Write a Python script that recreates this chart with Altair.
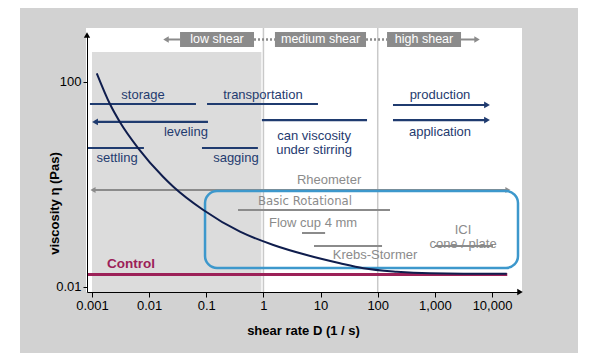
import altair as alt
import pandas as pd

# ---------------- data ----------------
shear_rate = [0.00121, 0.00207, 0.00309, 0.00645, 0.0175, 0.0265, 0.0887,
              0.389, 1.49, 5.71, 21.9, 56, 215, 822, 3150, 18100]
viscosity = [148, 36.7, 16.4, 5.09, 1.42, 0.906, 0.318,
             0.12, 0.066, 0.042, 0.029, 0.0232, 0.0199, 0.0185, 0.0182, 0.0182]

x_ticks = [0.001, 0.01, 0.1, 1, 10, 100, 1000, 10000]
y_ticks = [0.01, 100]

region_names = ["low shear", "medium shear", "high shear"]
region_start = [0.0347, 1.59, 145.6]
region_end = [0.684, 62.4, 2870]
region_center = [0.154, 10.0, 646]
header_top = 946
header_bottom = 482
header_mid = 675
header_tips = [0.0197, 5470]

low_shear_band = [0.001, 0.92]
low_shear_top = 385
dividers = [1, 100]

app_names = ["storage", "transportation", "leveling", "can viscosity\nunder stirring",
             "settling", "sagging", "production", "application"]
app_start = [0.00092, 0.103, 0.00113, 0.94, 0.000817, 0.084, 185, 185]
app_end = [0.066, 9.0, 0.107, 65, 0.0081, 0.80, 8180, 8180]
app_level = [37.2, 37.2, 16.6, 18.1, 5.15, 5.15, 35.6, 18.1]
app_arrow = ["none", "none", "left", "none", "none", "none", "right", "right"]
app_label_x = [0.0078, 0.98, 0.044, 7.7, 0.00274, 0.33, 1230, 1230]
app_label_y = [55.7, 55.7, 10.6, 8.65, 3.29, 3.29, 55.7, 10.6]

inst_names = ["Rheometer", "Basic Rotational", "Flow cup 4 mm", "Krebs-Stormer", "ICI\ncone / plate"]
inst_start = [0.00104, 0.359, 4.73, 7.67, 1006]
inst_end = [19000, 164, 12.0, 119, 10400]
inst_level = [0.78, 0.318, 0.113, 0.063, 0.063]
inst_label_x = [14.1, 5.35, 7.4, 89.8, 3110]
inst_label_y = [1.22, 0.476, 0.177, 0.042, 0.132]

box_x = [0.095, 28500]
box_y = [0.746, 0.0235]

control_level = 0.0175
control_range = [0.000817, 18500]
control_label_x = 0.00482
control_label_y = 0.0281

# ---------------- styling ----------------
FONT = "Liberation Sans, Arial, sans-serif"
NARROW = "Liberation Sans Narrow, DejaVu Sans Condensed, Liberation Sans, Arial, sans-serif"
NAVY = "#1f3b6f"
CURVE = "#0f1d4d"
GREY = "#8b8b8b"
PANEL = "#d2d2d2"
BAND = "#dcdcdc"
BLUE = "#3d98cc"
CONTROL = "#9c2158"

W, H = 433, 257
XMIN, XMAX = 0.000817, 30900
YMIN, YMAX = 0.00798, 826

xs = alt.Scale(type="log", domain=[XMIN, XMAX], nice=False)
ys = alt.Scale(type="log", domain=[YMIN, YMAX], nice=False)

xaxis = alt.Axis(values=x_ticks, format=",~g", title="shear rate D (1 / s)", grid=False,
                 domainColor="black", tickColor="black", tickSize=5, labelFontSize=13,
                 labelFont=FONT, labelColor="black", labelPadding=2, labelFlush=False,
                 labelOverlap=False, titleFont=FONT, titleFontSize=13, titleFontWeight="bold",
                 titleColor="black", titleX=216, titleY=38, titleBaseline="middle",
                 titleAlign="center", zindex=2)
yaxis = alt.Axis(values=y_ticks, format="~g", title="viscosity η (Pas)", grid=False,
                 domainColor="black", tickColor="black", tickSize=4, labelFontSize=13,
                 labelFont=FONT, labelColor="black", labelPadding=2, labelFlush=False,
                 labelOverlap=False, titleFont=FONT, titleFontSize=13, titleFontWeight="bold",
                 titleColor="black", titleX=-33, titleY=168, titleAngle=270,
                 titleBaseline="middle", titleAlign="center", zindex=2)


def X(f):
    return alt.X(f, type="quantitative", scale=xs, axis=xaxis)


def Y(f):
    return alt.Y(f, type="quantitative", scale=ys, axis=yaxis)


one = pd.DataFrame({"k": [0]})

# background panel and white plot area (decoration)
panel = alt.Chart(one).mark_rect(color=PANEL).encode(
    x=alt.value(-67), x2=alt.value(491), y=alt.value(-28), y2=alt.value(318))
white = alt.Chart(one).mark_rect(color="white").encode(
    x=alt.value(-1), x2=alt.value(W + 2), y=alt.value(-7), y2=alt.value(H))

band_df = pd.DataFrame({"x": [low_shear_band[0]], "x2": [low_shear_band[1]],
                        "y": [low_shear_top], "y2": [YMIN]})
band = alt.Chart(band_df).mark_rect(color=BAND).encode(
    x=X("x"), x2="x2", y=Y("y"), y2="y2")

div_df = pd.DataFrame({"x": dividers})
divs = alt.Chart(div_df).mark_rule(color="#c9c9c9", strokeWidth=1.5).encode(
    x=X("x"), y=alt.value(-7), y2=alt.value(H))

# header
hdr_df = pd.DataFrame({"name": region_names, "x": region_start, "x2": region_end,
                       "xc": region_center, "y": [header_top] * 3, "y2": [header_bottom] * 3,
                       "ym": [header_mid] * 3})
conn_df = pd.DataFrame({"x": [header_tips[0], region_end[2]],
                        "x2": [region_start[0], header_tips[1]],
                        "y": [header_mid] * 2})
dot_df = pd.DataFrame({"x": [region_end[0], region_end[1]],
                       "x2": [region_start[1], region_start[2]],
                       "y": [header_mid] * 2})
tip_df = pd.DataFrame({"x": header_tips, "y": [header_mid] * 2,
                       "shape": ["triangle-left", "triangle-right"]})
hdr_conn = alt.Chart(conn_df).mark_rule(color=GREY, strokeWidth=2).encode(
    x=X("x"), x2="x2", y=Y("y"))
hdr_dots = alt.Chart(dot_df).mark_rule(color=GREY, strokeWidth=2.5, strokeDash=[2, 2]).encode(
    x=X("x"), x2="x2", y=Y("y"))
hdr_tips = alt.Chart(tip_df).mark_point(filled=True, color=GREY, size=40, opacity=1).encode(
    x=X("x"), y=Y("y"), shape=alt.Shape("shape:N", scale=None))
hdr_box = alt.Chart(hdr_df).mark_rect(color=GREY).encode(
    x=X("x"), x2="x2", y=Y("y"), y2="y2")
hdr_txt = alt.Chart(hdr_df).mark_text(font=FONT, fontSize=12.5, color="white",
                                      align="center", baseline="middle").encode(
    x=X("xc"), y=Y("ym"), text="name:N")

# application ranges
app_df = pd.DataFrame({"name": app_names, "x": app_start, "x2": app_end, "y": app_level,
                       "arrow": app_arrow, "lx": app_label_x, "ly": app_label_y})
app_lines = alt.Chart(app_df).mark_rule(color=NAVY, strokeWidth=2.2).encode(
    x=X("x"), x2="x2", y=Y("y"))
heads = []
for s, e, lv, a in zip(app_start, app_end, app_level, app_arrow):
    if a == "left":
        heads.append({"x": s, "y": lv, "shape": "triangle-left"})
    elif a == "right":
        heads.append({"x": e, "y": lv, "shape": "triangle-right"})
app_heads = alt.Chart(pd.DataFrame(heads)).mark_point(filled=True, color=NAVY, size=45,
                                                      opacity=1).encode(
    x=X("x"), y=Y("y"), shape=alt.Shape("shape:N", scale=None))
app_text = alt.Chart(app_df).mark_text(font=FONT, fontSize=13, color=NAVY, align="center",
                                       baseline="middle", lineBreak="\n", lineHeight=14).encode(
    x=X("lx"), y=Y("ly"), text="name:N")

# instruments
inst_df = pd.DataFrame({"name": inst_names, "x": inst_start, "x2": inst_end, "y": inst_level,
                        "lx": inst_label_x, "ly": inst_label_y})
inst_lines = alt.Chart(inst_df).mark_rule(color=GREY, strokeWidth=2).encode(
    x=X("x"), x2="x2", y=Y("y"))
rheo_tips = pd.DataFrame({"x": [inst_start[0], inst_end[0]], "y": [inst_level[0]] * 2,
                          "shape": ["triangle-left", "triangle-right"]})
inst_heads = alt.Chart(rheo_tips).mark_point(filled=True, color=GREY, size=35, opacity=1).encode(
    x=X("x"), y=Y("y"), shape=alt.Shape("shape:N", scale=None))
inst_text = alt.Chart(inst_df[inst_df["name"] != "Basic Rotational"]).mark_text(
    font=FONT, fontSize=13, color=GREY, align="center", baseline="middle",
    lineBreak="\n", lineHeight=14).encode(x=X("lx"), y=Y("ly"), text="name:N")
inst_text2 = alt.Chart(inst_df[inst_df["name"] == "Basic Rotational"]).mark_text(
    font=NARROW, fontSize=13, color=GREY, align="center", baseline="middle").encode(
    x=X("lx"), y=Y("ly"), text="name:N")

box_df = pd.DataFrame({"x": [box_x[0]], "x2": [box_x[1]], "y": [box_y[0]], "y2": [box_y[1]]})
box = alt.Chart(box_df).mark_rect(fillOpacity=0, stroke=BLUE, strokeWidth=2.5,
                                  cornerRadius=12).encode(
    x=X("x"), x2="x2", y=Y("y"), y2="y2")

# control
ctrl_df = pd.DataFrame({"x": [control_range[0]], "x2": [control_range[1]],
                        "y": [control_level], "lx": [control_label_x],
                        "ly": [control_label_y], "name": ["Control"]})
ctrl = alt.Chart(ctrl_df).mark_rule(color=CONTROL, strokeWidth=3).encode(
    x=X("x"), x2="x2", y=Y("y"))
ctrl_txt = alt.Chart(ctrl_df).mark_text(font=FONT, fontSize=13.5, fontWeight="bold",
                                        color=CONTROL, align="center", baseline="middle").encode(
    x=X("lx"), y=Y("ly"), text="name:N")

# viscosity curve
curve_df = pd.DataFrame({"rate": shear_rate, "visc": viscosity})
curve = alt.Chart(curve_df).mark_line(color=CURVE, strokeWidth=2, interpolate="monotone").encode(
    x=X("rate"), y=Y("visc"))

# axis arrowheads (decoration at the ends of the axis lines)
yarrow = alt.Chart(one).mark_point(filled=True, color="black", size=40, opacity=1,
                                   shape="triangle-up").encode(x=alt.value(0), y=alt.value(0))
xarrow = alt.Chart(one).mark_point(filled=True, color="black", size=40, opacity=1,
                                   shape="triangle-right").encode(x=alt.value(W), y=alt.value(H))

chart = alt.layer(
    panel, white, band, divs,
    hdr_conn, hdr_dots, hdr_tips, hdr_box, hdr_txt,
    inst_lines, inst_heads, inst_text, inst_text2, box,
    app_lines, app_heads, app_text,
    ctrl, ctrl_txt, curve, yarrow, xarrow,
).properties(
    width=W, height=H,
    padding={"left": 79, "top": 27, "right": 72, "bottom": 70},
    autosize=alt.AutoSizeParams(type="none"),
).configure_view(strokeWidth=0)

chart.save("out.html", embed_options={"renderer": "svg", "actions": False})
